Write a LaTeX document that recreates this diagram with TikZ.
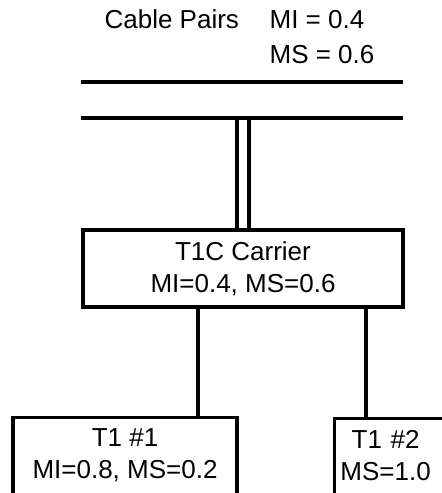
\documentclass[tikz,border=0pt]{standalone}
\usepackage{fontspec}
\setmainfont{Liberation Sans}
\usetikzlibrary{positioning}

\begin{document}
\begin{tikzpicture}[x=1pt,y=-1pt,line width=3.2pt,
  every node/.style={font=\fontsize{26}{32}\selectfont,inner sep=0pt},
  unit/.style={draw,align=center,inner xsep=6pt,inner ysep=11.5pt}]
  \clip (0,0) rectangle (442,493);
  % --- heading ---
  \node[anchor=base west] (cable) at (103,28) {Cable Pairs};
  \node[anchor=base west] (mi) at (268,28) {MI = 0.4};
  \node[anchor=base west] (ms) at (268,63) {MS = 0.6};
  % --- the two cable pairs ---
  \coordinate (upL) at (81,82);
  \coordinate (upR) at (403,82);
  \coordinate (lowL) at (81,118);
  \coordinate (lowR) at (403,118);
  \draw (upL) -- (upR);
  \draw (lowL) -- (lowR);
  % --- carrier and its T1 lines ---
  \node[unit,minimum width=320pt,minimum height=75pt] (t1c) at (243,268.5)
    {T1C Carrier\\MI=0.4, MS=0.6};
  \node[unit,anchor=north,minimum width=224pt,text depth=80pt] (t1a) at (125,416)
    {T1 \#1\\MI=0.8, MS=0.2};
  \node[unit,anchor=north west,text width=150pt,align=left,text depth=80pt] (t1b) at (333,417)
    {\makebox[90pt]{T1 \#2}\\\makebox[90pt]{MS=1.0}};
  % connectors
  \draw[double,double distance=8.8pt,shorten >=1.6pt] (t1c.north) -- (t1c.north |- lowL);
  \draw ([xshift=-45pt]t1c.south) -- ([xshift=-45pt]t1c.south |- t1a.north);
  \draw ([xshift=123pt]t1c.south) -- ([xshift=123pt]t1c.south |- t1b.north);
\end{tikzpicture}
\end{document}
